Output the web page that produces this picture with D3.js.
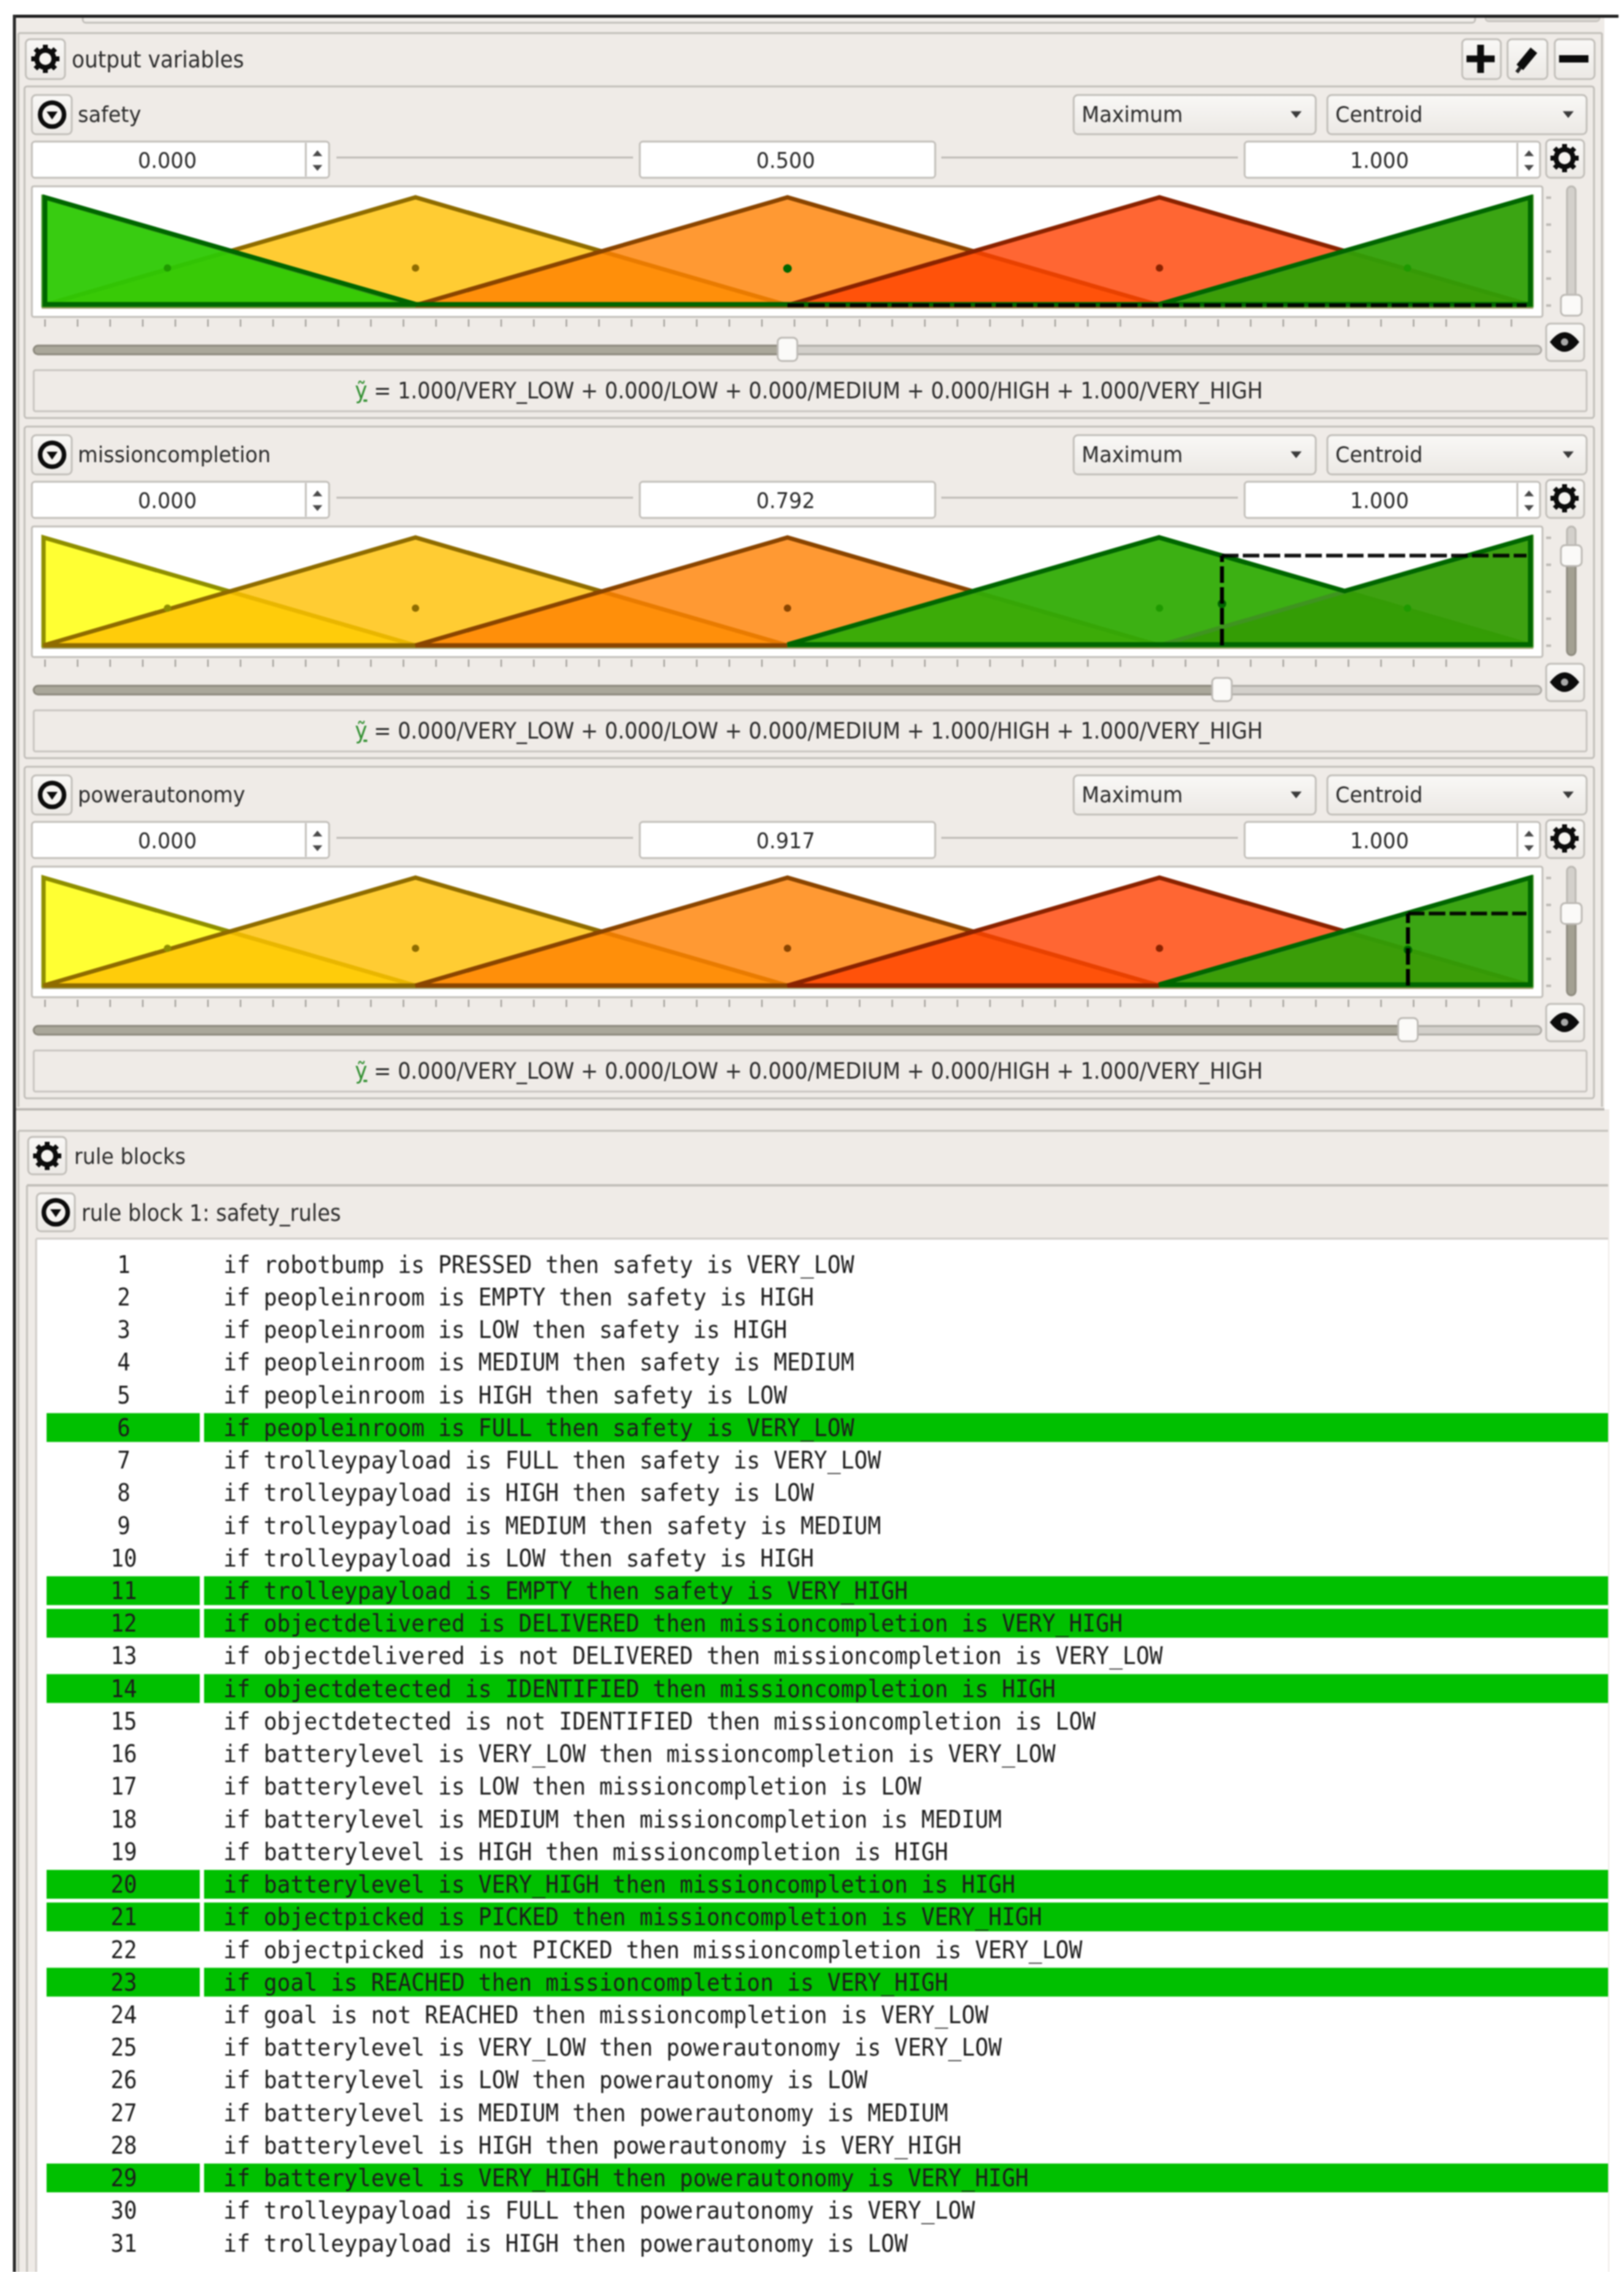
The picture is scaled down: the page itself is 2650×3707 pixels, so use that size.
<!DOCTYPE html>
<html><head><meta charset="utf-8">
<script src="https://cdn.jsdelivr.net/npm/d3@7"></script>
<style>
html,body{margin:0;padding:0;background:#fff}
svg{display:block;filter:blur(0.9px)}
text{font-family:"DejaVu Sans",sans-serif;fill:#2b2b2b}
.mono{font-family:"DejaVu Sans Mono",monospace;fill:#1c1c1c}
</style></head><body>
<div id="chart"></div>
<script>
// ---------- data ----------
const variableNames = ["safety", "missioncompletion", "powerautonomy"];
const aggregationLabel = "Maximum";
const defuzzifierLabel = "Centroid";
const rangeLabels = [0, 1];
const termNames = ["VERY_LOW", "LOW", "MEDIUM", "HIGH", "VERY_HIGH"];
const termShapes = [[0, 0, 0.25], [0, 0.25, 0.5], [0.25, 0.5, 0.75], [0.5, 0.75, 1], [0.75, 1, 1]];
const termCentroids = [0.0833, 0.25, 0.5, 0.75, 0.9167];
const safetyActivations = [1, 0, 0, 0, 1];
const missionActivations = [0, 0, 0, 1, 1];
const powerActivations = [0, 0, 0, 0, 1];
const crispOutputs = [0.5, 0.792, 0.917];
const membershipAtCrisp = [0, 0.833, 0.667];
const crispCentroidHeights = [0.34, 0.385, 0.33];
const safetyOutline = [[0, 0], [0, 1], [0.25, 0], [0.75, 0], [1, 1], [1, 0]];
const missionOutline = [[0.5, 0], [0.75, 1], [0.875, 0.5], [1, 1], [1, 0]];
const powerOutline = [[0.75, 0], [1, 1], [1, 0]];
const outputPanelTitle = "output variables";
const rulePanelTitle = "rule blocks";
const ruleBlockTitle = "rule block 1: safety_rules";
const ruleTexts = [
"if robotbump is PRESSED then safety is VERY_LOW",
"if peopleinroom is EMPTY then safety is HIGH",
"if peopleinroom is LOW then safety is HIGH",
"if peopleinroom is MEDIUM then safety is MEDIUM",
"if peopleinroom is HIGH then safety is LOW",
"if peopleinroom is FULL then safety is VERY_LOW",
"if trolleypayload is FULL then safety is VERY_LOW",
"if trolleypayload is HIGH then safety is LOW",
"if trolleypayload is MEDIUM then safety is MEDIUM",
"if trolleypayload is LOW then safety is HIGH",
"if trolleypayload is EMPTY then safety is VERY_HIGH",
"if objectdelivered is DELIVERED then missioncompletion is VERY_HIGH",
"if objectdelivered is not DELIVERED then missioncompletion is VERY_LOW",
"if objectdetected is IDENTIFIED then missioncompletion is HIGH",
"if objectdetected is not IDENTIFIED then missioncompletion is LOW",
"if batterylevel is VERY_LOW then missioncompletion is VERY_LOW",
"if batterylevel is LOW then missioncompletion is LOW",
"if batterylevel is MEDIUM then missioncompletion is MEDIUM",
"if batterylevel is HIGH then missioncompletion is HIGH",
"if batterylevel is VERY_HIGH then missioncompletion is HIGH",
"if objectpicked is PICKED then missioncompletion is VERY_HIGH",
"if objectpicked is not PICKED then missioncompletion is VERY_LOW",
"if goal is REACHED then missioncompletion is VERY_HIGH",
"if goal is not REACHED then missioncompletion is VERY_LOW",
"if batterylevel is VERY_LOW then powerautonomy is VERY_LOW",
"if batterylevel is LOW then powerautonomy is LOW",
"if batterylevel is MEDIUM then powerautonomy is MEDIUM",
"if batterylevel is HIGH then powerautonomy is VERY_HIGH",
"if batterylevel is VERY_HIGH then powerautonomy is VERY_HIGH",
"if trolleypayload is FULL then powerautonomy is VERY_LOW",
"if trolleypayload is HIGH then powerautonomy is LOW"
];
const activeRules = [6, 11, 12, 14, 20, 21, 23, 29];

// ---------- styling ----------
const activations = [safetyActivations, missionActivations, powerActivations];
const outlines = [safetyOutline, missionOutline, powerOutline];
const inactiveFill = ["rgb(255,255,0)", "rgb(255,191,0)", "rgb(255,128,0)", "rgb(255,64,0)", "rgb(0,128,0)"];
const inactiveStroke = ["#8f8f00", "#8f6c00", "#8a4500", "#8a2300", "#006600"];
const activeFill = [
  ["rgb(45,201,4)", null, null, null, "rgb(48,160,6)"],
  [null, null, null, "rgb(50,172,6)", "rgb(52,156,4)"],
  [null, null, null, null, "rgb(48,160,6)"]
];
const BG = "#efebe7", EDGE = "#c2bfba", PANEL_STEP = 555, STRETCH = 1.08;

const W = 2650, H = 3707;
const svg = d3.select("#chart").append("svg").attr("width", W).attr("height", H).attr("viewBox", [0, 0, W, H]);
const defs = svg.append("defs");
const grad = defs.append("linearGradient").attr("id", "btn").attr("x1", 0).attr("x2", 0).attr("y1", 0).attr("y2", 1);
grad.append("stop").attr("offset", 0).attr("stop-color", "#f9f8f6");
grad.append("stop").attr("offset", 1).attr("stop-color", "#ece9e5");

function box(g, x0, y0, x1, y1, o = {}) {
  return g.append("rect").attr("x", x0).attr("y", y0).attr("width", x1 - x0).attr("height", y1 - y0)
    .attr("rx", o.r ?? 5).attr("fill", o.fill ?? "none").attr("stroke", o.stroke ?? EDGE).attr("stroke-width", o.sw ?? 3);
}
function line(g, x0, y0, x1, y1, c = EDGE, w = 3) {
  return g.append("line").attr("x1", x0).attr("y1", y0).attr("x2", x1).attr("y2", y1).attr("stroke", c).attr("stroke-width", w);
}
// UI text: taller and a little narrower than the plain font, as in the screenshot
function label(g, t, x, y, o = {}) {
  return g.append("text").attr("transform", `translate(${x},${y}) scale(${1 / STRETCH},1)`)
    .attr("dy", "0.35em").attr("text-anchor", o.anchor ?? "start")
    .attr("font-size", (o.size ?? 33.5) * STRETCH).text(t);
}
function button(g, x0, y0, x1, y1) { return box(g, x0, y0, x1, y1, { fill: "url(#btn)", r: 7 }); }
function gear(g, cx, cy, s = 1) {
  const n = g.append("g").attr("transform", `translate(${cx},${cy}) scale(${s})`);
  d3.range(8).forEach(i => {
    const a = i * Math.PI / 4;
    n.append("line").attr("x1", 11 * Math.cos(a)).attr("y1", 11 * Math.sin(a))
      .attr("x2", 23 * Math.cos(a)).attr("y2", 23 * Math.sin(a)).attr("stroke", "#0c0c0c").attr("stroke-width", 8);
  });
  n.append("circle").attr("r", 14).attr("fill", "#f6f4f1").attr("stroke", "#0c0c0c").attr("stroke-width", 8);
}
function collapse(g, cx, cy) {
  g.append("circle").attr("cx", cx).attr("cy", cy).attr("r", 19.5).attr("fill", "#f6f4f1").attr("stroke", "#0c0c0c").attr("stroke-width", 7.5);
  g.append("path").attr("d", `M${cx - 9},${cy - 5}L${cx + 9},${cy - 5}L${cx},${cy + 8}Z`).attr("fill", "#0c0c0c");
}
function eye(g, cx, cy) {
  g.append("path").attr("d", `M${cx - 24},${cy}Q${cx},${cy - 32} ${cx + 24},${cy}Q${cx},${cy + 32} ${cx - 24},${cy}Z`).attr("fill", "#0c0c0c");
  g.append("circle").attr("cx", cx).attr("cy", cy).attr("r", 6).attr("fill", "#a9a9a9");
}
function arrow(g, cx, cy, up, c = "#4a4a4a", s = 8) {
  const d = up ? -1 : 1;
  g.append("path").attr("d", `M${cx - s},${cy - d * s * 0.6}L${cx + s},${cy - d * s * 0.6}L${cx},${cy + d * s * 0.6}Z`).attr("fill", c);
}

// ---------- window background ----------
const root = svg.append("g");
root.append("rect").attr("x", 22).attr("y", 28).attr("width", 2596).attr("height", H - 28).attr("fill", BG);
root.append("rect").attr("x", 2618).attr("y", 1810).attr("width", 8).attr("height", H - 1810).attr("fill", BG);
box(root, 135, 20, 2407, 37, { fill: "#f1eeea", sw: 3 });
box(root, 2424, 20, 2610, 35, { fill: "#d8d5d0", sw: 2 });
root.append("rect").attr("x", 0).attr("y", 0).attr("width", 2650).attr("height", 24).attr("fill", "#fff");
root.append("rect").attr("x", 21).attr("y", 24).attr("width", 2620).attr("height", 5).attr("fill", "#1f1f1f");
root.append("rect").attr("x", 21).attr("y", 24).attr("width", 5).attr("height", H - 24).attr("fill", "#2a2a2a");

// ---------- output variables group ----------
line(root, 30, 54, 2614, 54);
line(root, 30, 54, 30, 1806);
line(root, 2614, 54, 2614, 1806);
line(root, 26, 1810, 2618, 1810, "#bdbab5", 4);
button(root, 42, 64, 106, 129);
gear(root, 74, 96);
label(root, outputPanelTitle, 117, 97, { size: 34.4 });
button(root, 2386, 64, 2449, 129);
line(root, 2393, 96, 2439, 96, "#0c0c0c", 11);
line(root, 2416, 73, 2416, 119, "#0c0c0c", 11);
button(root, 2460, 64, 2525, 129);
line(root, 2480, 110, 2503, 82, "#0c0c0c", 14);
line(root, 2475, 118, 2481, 110, "#222", 6);
button(root, 2537, 64, 2602, 129);
line(root, 2544, 96, 2592, 96, "#0c0c0c", 12);

const x = d3.scaleLinear().domain([0, 1]).range([71, 2499]);
const xOutline = d3.scaleLinear().domain([0, 1]).range([73.5, 2497]);
const fmt = d3.format(".3f");

variableNames.forEach((name, i) => {
  const off = PANEL_STEP * i;
  const g = svg.append("g").attr("class", "variable").attr("transform", `translate(0,${off})`);
  const y = d3.scaleLinear().domain([0, 1]).range([498, 322]);
  const yOutline = d3.scaleLinear().domain([0, 1]).range([496.5, 322]);

  // frame
  box(g, 40, 141, 2601, 682, { r: 4 });
  button(g, 52, 155, 117, 219);
  collapse(g, 85, 187);
  label(g, name, 127, 186);
  // combo boxes
  [[1752, 2147, aggregationLabel, 1765, 2115], [2166, 2589, defuzzifierLabel, 2179, 2559]].forEach(c => {
    button(g, c[0], 155, c[1], 219);
    label(g, c[2], c[3], 186);
    arrow(g, c[4], 187, false, "#3a3a3a", 9);
  });
  // range boxes
  box(g, 52, 231, 537, 290, { fill: "#fff" });
  line(g, 499, 233, 499, 288);
  label(g, fmt(rangeLabels[0]), 273, 261, { anchor: "middle" });
  arrow(g, 518, 250, true); arrow(g, 518, 274, false);
  line(g, 549, 257, 1033, 257, "#bdbab5", 3);
  box(g, 1044, 231, 1526, 290, { fill: "#fff" });
  label(g, fmt(crispOutputs[i]), 1282, 261, { anchor: "middle" });
  line(g, 1536, 257, 2020, 257, "#bdbab5", 3);
  box(g, 2031, 231, 2513, 290, { fill: "#fff" });
  line(g, 2476, 233, 2476, 288);
  label(g, fmt(rangeLabels[1]), 2251, 261, { anchor: "middle" });
  arrow(g, 2495, 250, true); arrow(g, 2495, 274, false);
  button(g, 2523, 228, 2585, 290);
  gear(g, 2553, 258);

  // plot area
  box(g, 52, 304, 2517, 517, { fill: "#fff", r: 3 });

  const act = activations[i];
  const tri = d3.line().x(d => x(d[0])).y(d => y(d[1]));
  const triOutline = d3.line().x(d => xOutline(d[0])).y(d => yOutline(d[1]));
  const shapes = termShapes.map((s, t) => ({ s, t, on: act[t] > 0 }));
  const order = shapes.filter(d => !d.on).concat(shapes.filter(d => d.on));
  g.append("line").attr("x1", x(0) - 3).attr("x2", x(1) + 3).attr("y1", y(0) + 4.5).attr("y2", y(0) + 4.5)
    .attr("stroke", "#7d7a3a").attr("stroke-width", 2.5).attr("opacity", 0.7);
  g.selectAll("path.term").data(order).join("path").attr("class", "term")
    .attr("d", d => tri([[d.s[0], 0], [d.s[1], 1], [d.s[2], 0]]) + "Z")
    .attr("fill", d => d.on ? activeFill[i][d.t] : inactiveFill[d.t])
    .attr("fill-opacity", d => d.on ? 0.95 : 0.8)
    .attr("stroke", d => d.on ? "#3f9420" : inactiveStroke[d.t])
    .attr("stroke-width", 7).attr("stroke-linejoin", "miter").attr("stroke-miterlimit", 3);
  g.selectAll("circle.centroid").data(order).join("circle").attr("class", "centroid")
    .attr("cx", d => x(termCentroids[d.t])).attr("cy", y(0.345)).attr("r", 6)
    .attr("fill", d => d.on ? "#1f9a00" : inactiveStroke[d.t]);
  // aggregated output outline
  g.append("path").attr("d", triOutline(outlines[i]) + "Z").attr("fill", "none").attr("stroke", "#006600")
    .attr("stroke-width", 7.5).attr("stroke-linejoin", "miter").attr("stroke-miterlimit", 3);
  // crisp output marks
  const cx = x(crispOutputs[i]), cy = y(membershipAtCrisp[i]);
  g.append("circle").attr("cx", cx).attr("cy", y(crispCentroidHeights[i])).attr("r", 7).attr("fill", "#006600");
  g.append("line").attr("x1", cx).attr("x2", cx).attr("y1", y(0)).attr("y2", cy)
    .attr("stroke", "#000").attr("stroke-width", 6.5).attr("stroke-dasharray", "27 7");
  g.append("line").attr("x1", cx).attr("x2", x(1) - 8).attr("y1", cy).attr("y2", cy)
    .attr("stroke", "#000").attr("stroke-width", 6).attr("stroke-dasharray", "27 7").attr("opacity", 0.92);

  // horizontal slider ticks through a real axis
  const ticks = d3.axisBottom(x.copy()).tickValues(d3.range(0.0008, 0.99, 0.0219)).tickSize(12).tickFormat("");
  const ag = g.append("g").attr("transform", "translate(0,521)").call(ticks);
  ag.select(".domain").remove();
  ag.selectAll("line").attr("stroke", "#a6a39e").attr("stroke-width", 2.5);

  // horizontal slider
  box(g, 55, 564, 2515, 578, { fill: "#d3d0cb", stroke: "#aeaba6", r: 7 });
  box(g, 55, 564, cx, 578, { fill: "#aaa79a", stroke: "#8d8a7e", r: 7 });
  box(g, cx - 16, 551, cx + 16, 589, { fill: "#fbfaf8", stroke: "#bdbab5", r: 7 });
  button(g, 2523, 528, 2585, 589);
  eye(g, 2553, 558);

  // vertical slider and its ticks through a real axis
  const vy = y(membershipAtCrisp[i]);
  const vTicks = d3.axisLeft(y.copy()).tickValues([0, 0.25, 0.5, 0.75, 1]).tickSize(8).tickFormat("");
  const vg = g.append("g").attr("transform", "translate(2531,0)").call(vTicks);
  vg.select(".domain").remove();
  vg.selectAll("line").attr("stroke", "#bcb9b4").attr("stroke-width", 4);
  box(g, 2557, 304, 2571, 514, { fill: "#d3d0cb", stroke: "#bcb9b4", r: 7 });
  box(g, 2557, vy, 2571, 514, { fill: "#a3a092", stroke: "#8f8c80", r: 7 });
  box(g, 2547, vy - 17, 2581, vy + 17, { fill: "#fbfaf8", stroke: "#bdbab5", r: 7 });

  // output expression
  box(g, 55, 604, 2589, 671, { r: 3, stroke: "#c8c5c0" });
  const t = label(g, "", 1320, 637, { anchor: "middle", size: 33.7 });
  t.append("tspan").attr("style", "fill:#2f8f2f;text-decoration:underline").text("ỹ");
  t.append("tspan").text(" = " + termNames.map((n, k) => `${fmt(act[k])}/${n}`).join(" + "));
});

// ---------- rule blocks group ----------
const rules = svg.append("g").attr("class", "rules");
line(rules, 30, 1845, 2624, 1845);
line(rules, 30, 1845, 30, H);
button(rules, 46, 1855, 108, 1916);
gear(rules, 77, 1886);
label(rules, rulePanelTitle, 121, 1886, { size: 33.5 });
line(rules, 44, 1934, 2624, 1934, EDGE, 4);
line(rules, 44, 1934, 44, H, EDGE, 3);
button(rules, 60, 1947, 122, 2009);
collapse(rules, 91, 1978);
label(rules, ruleBlockTitle, 133, 1979, { size: 33.7 });
rules.append("rect").attr("x", 59).attr("y", 2022).attr("width", 2565).attr("height", H - 2022).attr("fill", "#fff");
line(rules, 59, 2021, 2624, 2021, "#cfccc7", 3);
line(rules, 59, 2021, 59, H, "#cfccc7", 3);

const ruleNumbers = ruleTexts.map((_, k) => k + 1);
const rowY = d3.scalePoint().domain(ruleNumbers).range([2063, 3660]);
const isOn = n => activeRules.includes(n);
const rows = rules.selectAll("g.rule").data(ruleNumbers).join("g").attr("class", "rule")
  .attr("transform", n => `translate(0,${rowY(n)})`);
rows.filter(isOn).append("rect").attr("x", 76).attr("y", -23.5).attr("width", 250).attr("height", 47).attr("fill", "#00c000");
rows.filter(isOn).append("rect").attr("x", 333).attr("y", -23.5).attr("width", 2291).attr("height", 47).attr("fill", "#00c000");
const CHAR = 21.9;
rows.append("text").attr("class", "mono").attr("transform", "translate(202,0) scale(0.92,1)").attr("dy", "0.35em").attr("text-anchor", "middle")
  .attr("font-size", 39).text(n => n);
rows.append("text").attr("class", "mono").attr("x", 364.5).attr("dy", "0.35em").attr("font-size", 39)
  .attr("textLength", n => ruleTexts[n - 1].length * CHAR).attr("lengthAdjust", "spacingAndGlyphs")
  .text(n => ruleTexts[n - 1]);
</script></body></html>
